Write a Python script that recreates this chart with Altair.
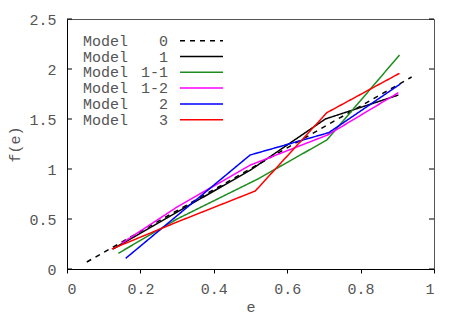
import altair as alt
import pandas as pd

# ---- data ----
series_names = ["Model 0", "Model 1", "Model 1-1", "Model 1-2", "Model 2", "Model 3"]
legend_nums = ["0", "1", "1-1", "1-2", "2", "3"]
colors = ["#000000", "#000000", "#1e8c1e", "#ff00ff", "#0000ff", "#ff0000"]
dashes = [[5, 5], [1, 0], [1, 0], [1, 0], [1, 0], [1, 0]]

m0_x = [0.054, 0.939]
m0_y = [0.07, 1.92]
m1_x = [0.125, 0.5, 0.704, 0.903]
m1_y = [0.20, 0.99, 1.50, 1.74]
m11_x = [0.14, 0.3, 0.52, 0.708, 0.906]
m11_y = [0.157, 0.50, 0.90, 1.29, 2.14]
m12_x = [0.149, 0.3, 0.5, 0.71, 0.903]
m12_y = [0.257, 0.62, 1.04, 1.34, 1.763]
m2_x = [0.16, 0.499, 0.713, 0.908]
m2_y = [0.107, 1.14, 1.363, 1.85]
m3_x = [0.122, 0.3, 0.513, 0.708, 0.906]
m3_y = [0.20, 0.47, 0.78, 1.563, 1.957]

x_ticks = [0, 0.2, 0.4, 0.6, 0.8, 1]
y_ticks = [0, 0.5, 1, 1.5, 2, 2.5]

FONT = "Liberation Mono"
TXT = "#555555"

rows = []
for name, xs, ys in zip(series_names,
                        [m0_x, m1_x, m11_x, m12_x, m2_x, m3_x],
                        [m0_y, m1_y, m11_y, m12_y, m2_y, m3_y]):
    for i, (a, b) in enumerate(zip(xs, ys)):
        rows.append({"series": name, "e": a, "f": b, "i": i})
df = pd.DataFrame(rows)

W, H = 367, 250
xscale = alt.Scale(domain=[0, 1], nice=False, zero=False)
yscale = alt.Scale(domain=[0, 2.5], nice=False, zero=False)
color = alt.Color("series:N", scale=alt.Scale(domain=series_names, range=colors), legend=None)
dash = alt.StrokeDash("series:N", scale=alt.Scale(domain=series_names, range=dashes), legend=None)

lines = alt.Chart(df).mark_line(strokeWidth=1.5).encode(
    x=alt.X("e:Q", scale=xscale, title="e",
            axis=alt.Axis(values=x_ticks, format="~g", tickSize=4, labelPadding=8,
                          titlePadding=3)),
    y=alt.Y("f:Q", scale=yscale, title="f(e)",
            axis=alt.Axis(values=y_ticks, format="~g", ticks=False, tickSize=0,
                          labelPadding=11, titlePadding=6)),
    color=color,
    strokeDash=dash,
    order="i:Q",
    detail="series:N",
)

tdf = pd.DataFrame({"t": y_ticks})
left_ticks = alt.Chart(tdf).mark_rule(color="black", strokeWidth=1).encode(
    y=alt.Y("t:Q", scale=yscale, axis=None),
    x=alt.value(0), x2=alt.value(5),
)
right_ticks = alt.Chart(tdf).mark_rule(color="black", strokeWidth=1).encode(
    y=alt.Y("t:Q", scale=yscale, axis=None),
    x=alt.value(W), x2=alt.value(W - 5),
)

ldf = pd.DataFrame({"series": series_names, "num": legend_nums,
                    "rank": list(range(len(series_names)))})
lscale = alt.Scale(domain=[0, 5], range=[21.7, 100.7])
leg_word = alt.Chart(ldf).mark_text(align="left", baseline="middle", font=FONT,
                                    fontSize=15, color=TXT).encode(
    y=alt.Y("rank:Q", scale=lscale, axis=None), x=alt.value(16),
    text=alt.value("Model"),
)
leg_num = alt.Chart(ldf).mark_text(align="right", baseline="middle", font=FONT,
                                   fontSize=15, color=TXT).encode(
    y=alt.Y("rank:Q", scale=lscale, axis=None), x=alt.value(101),
    text="num:N",
)
leg_line = alt.Chart(ldf).mark_rule(strokeWidth=1.5).encode(
    y=alt.Y("rank:Q", scale=lscale, axis=None), x=alt.value(113), x2=alt.value(156),
    color=color, strokeDash=dash,
)

chart = alt.layer(lines, left_ticks, right_ticks, leg_word, leg_num, leg_line).resolve_scale(
    y="independent"
).properties(
    width=W, height=H,
    autosize=alt.AutoSizeParams(type="none"),
    padding={"left": 59, "top": 11, "right": 20, "bottom": 47},
).configure_view(
    stroke="#555555", strokeWidth=1,
).configure_axis(
    grid=False, domainColor="black", tickColor="black",
    labelFont=FONT, labelFontSize=15, labelColor=TXT,
    titleFont=FONT, titleFontSize=15, titleColor=TXT, titleFontWeight="normal",
)

chart.save("out.html", embed_options={"renderer": "svg", "actions": False})
